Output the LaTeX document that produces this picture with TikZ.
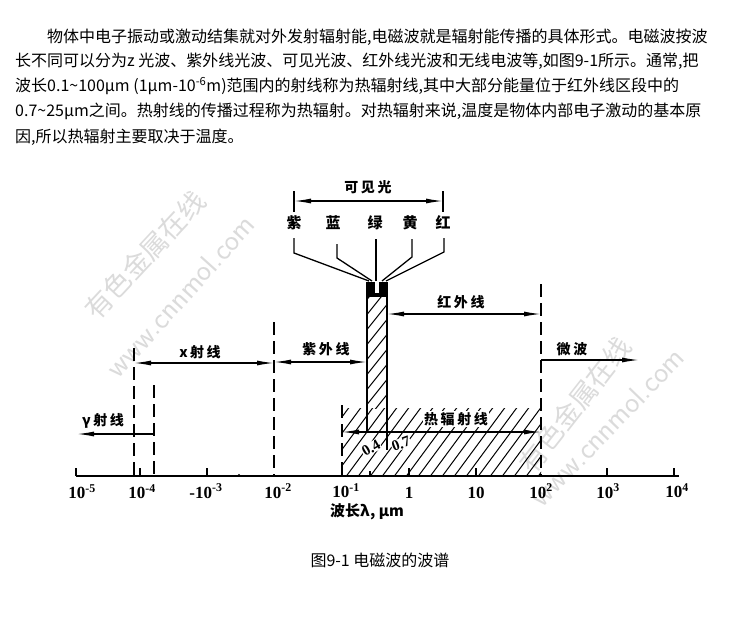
\documentclass[tikz,border=0pt]{standalone}
\usepackage{fontspec}
\newfontfamily\cjk{Noto Sans CJK SC}
\newfontfamily\cjklab[LetterSpace=18]{Noto Sans CJK SC}
\newfontfamily\numf{Liberation Serif}
\usetikzlibrary{arrows.meta}
\tikzset{
  ln/.style={line width=1.3pt},
  axisln/.style={line width=2.2pt},
  dsh/.style={line width=1.5pt, dash pattern=on 13pt off 6pt},
  hatch/.style={line width=1pt},
  para/.style={anchor=west, inner sep=0pt, font=\cjk\fontsize{16}{16}\selectfont},
  lab/.style={inner sep=1pt, font=\cjklab\bfseries\fontsize{14}{14}\selectfont},
  clab/.style={inner sep=1pt, font=\cjk\bfseries\fontsize{15}{15}\selectfont},
  num/.style={inner sep=0pt, font=\numf\bfseries\fontsize{17}{17}\selectfont},
  smallnum/.style={inner sep=0.5pt, fill=white, font=\numf\bfseries\fontsize{15}{15}\selectfont},
  wm/.style={inner sep=0pt, text=black!14},
}
\begin{document}
\begin{tikzpicture}[x=1pt,y=-1pt,>={Latex[length=17pt,width=5pt]}]
\useasboundingbox[fill=white] (0,0) rectangle (730,627);

% watermarks
\node[wm, rotate=47, font=\cjk\fontsize{27}{27}\selectfont] (wma) at (145,255) {有色金属在线};
\node[wm, rotate=48, font=\sffamily\fontsize{30}{30}\selectfont] (wmb) at (180,296) {www.cnnmol.com};
\node[wm, rotate=52, font=\cjk\fontsize{27}{27}\selectfont] (wmc) at (575,405) {有色金属在线};
\node[wm, rotate=46, font=\sffamily\fontsize{30}{30}\selectfont] (wmd) at (607,427) {www.cnnmol.com};

% paragraph
\node[para] (p1) at (47,37) {物体中电子振动或激动结集就对外发射辐射能,电磁波就是辐射能传播的具体形式。电磁波按波};
\node[para] (p2) at (15,61) {长不同可以分为z 光波、紫外线光波、可见光波、红外线光波和无线电波等,如图9-1所示。通常,把};
\node[para] (p3) at (15,86) {波长0.1\textasciitilde100μm (1μm-10\textsuperscript{-6}m)范围内的射线称为热辐射线,其中大部分能量位于红外线区段中的};
\node[para] (p4) at (15,111) {0.7\textasciitilde25μm之间。热射线的传播过程称为热辐射。对热辐射来说,温度是物体内部电子激动的基本原};
\node[para] (p5) at (15,137) {因,所以热辐射主要取决于温度。};

% hatched thermal region
\begin{scope}
  \clip (342,408) rectangle (541,476);
  \foreach \i in {-6,...,17} \draw[hatch] ({342+\i*12},482) -- ++(62,-84);
\end{scope}
% hatched visible bar
\begin{scope}
  \clip (367,296) rectangle (387,408);
  \foreach \i in {0,...,8} \draw[hatch] (365,{302+\i*15}) -- ++(24,-30);
\end{scope}
\draw[ln] (367,296) -- (367,432);
\draw[ln] (387,296) -- (387,450);
% black cap with slit
\fill (366,282) rectangle (388,297);
\fill[white] (375,279) rectangle (379,293);

% axis
\coordinate (ax0) at (76,476);
\coordinate (ax1) at (679,476);
\draw[axisln] (ax0) -- (ax1);
\foreach \x in {76,140,207,409,476,607,674} \draw[ln] (\x,476) -- (\x,468);
\draw[ln] (370,476) -- (370,471);
\fill (239,475) circle (1.2);

% dashed boundaries
\coordinate (d1t) at (134,348); \coordinate (d1b) at (134,476);
\coordinate (d2t) at (154,385); \coordinate (d2b) at (154,476);
\coordinate (d3t) at (274,322); \coordinate (d3b) at (274,476);
\coordinate (d4t) at (342,405); \coordinate (d4b) at (342,476);
\coordinate (d5t) at (541,284); \coordinate (d5b) at (541,476);
\foreach \n in {1,...,5} \draw[dsh] (d\n t) -- (d\n b);

% axis labels
\node[num] (l5) at (82,492) {10\textsuperscript{-5}};
\node[num] (l4) at (142,492) {10\textsuperscript{-4}};
\node[num] (l3) at (206,491) {-10\textsuperscript{-3}};
\node[num] (l2) at (278,491) {10\textsuperscript{-2}};
\node[num] (l1) at (346,491) {10\textsuperscript{-1}};
\node[num] (l0) at (409,493) {1};
\node[num] (lp1) at (476,493) {10};
\node[num] (lp2) at (541,491) {10\textsuperscript{2}};
\node[num] (lp3) at (608,491) {10\textsuperscript{3}};
\node[num] (lp4) at (677,491) {10\textsuperscript{4}};
\node[clab] (xl) at (367,512) {波长λ, μm};

% visible light bracket
\coordinate (vl) at (294,201); \coordinate (vr) at (443,201);
\draw[ln] (294,191) -- (294,212);
\draw[ln] (443,191) -- (443,212);
\draw[ln,<->] (vl) -- (vr);
\node[lab] (kjg) at (368,187) {可见光};

% colour names and leads
\node[clab] (zi) at (294,223) {紫};
\node[clab] (lan) at (333,223) {蓝};
\node[clab] (lv) at (375,223) {绿};
\node[clab] (hu) at (410,223) {黄};
\node[clab] (ho) at (443,223) {红};
\draw[ln] (294,238) -- (294,253) -- (369,281);
\draw[ln] (337,244) -- (337,258) -- (372,281);
\draw[ln] (376,239) -- (376,281);
\draw[ln] (412,239) -- (412,257) -- (382,281);
\draw[ln] (444,238) -- (444,252) -- (386,281);

% range arrows
\coordinate (xa) at (134,363); \coordinate (xb) at (274,363);
\draw[ln,<->] (xa) -- (xb);
\node[lab] (xlab) at (200,352) {x射线};
\coordinate (ua) at (274,362); \coordinate (ub) at (367,362);
\draw[ln,<->] (ua) -- (ub);
\node[lab] (ulab) at (326,349) {紫外线};
\coordinate (ia) at (387,314); \coordinate (ib) at (541,314);
\draw[ln,<->] (ia) -- (ib);
\node[lab] (ilab) at (461,302) {红外线};
\coordinate (ma) at (541,360); \coordinate (mb) at (639,360);
\draw[ln,->] (ma) -- (mb);
\node[lab] (mlab) at (572,349) {微波};
\coordinate (ga) at (154,434); \coordinate (gb) at (77,434);
\draw[ln,->] (ga) -- (gb);
\node[lab] (glab) at (103,421) {γ射线};
\coordinate (ta) at (342,432); \coordinate (tb) at (541,432);
\draw[ln,<->] (ta) -- (tb);
\node[lab, fill=white] (tlab) at (456,419) {热辐射线};
\node[smallnum, rotate=30] (n04) at (371,448) {0.4};
\node[smallnum, rotate=20] (n07) at (401,444) {0.7};

% caption
\node[inner sep=0pt, font=\cjk\fontsize{16}{16}\selectfont] (cap) at (380,560) {图9-1 电磁波的波谱};
\end{tikzpicture}
\end{document}
